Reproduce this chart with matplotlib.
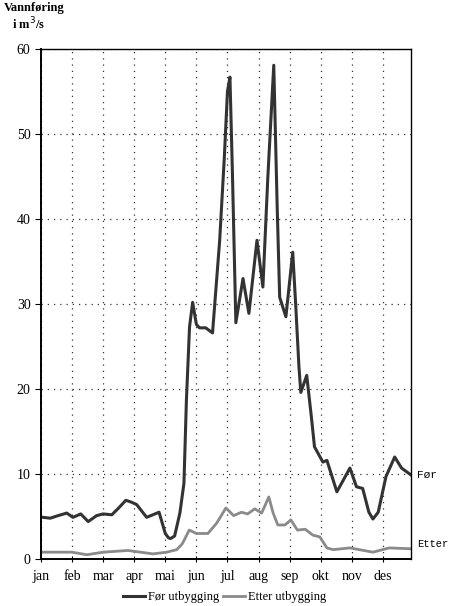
import matplotlib.pyplot as plt

# month position (0 = start of jan), values in m3/s
months = ['jan', 'feb', 'mar', 'apr', 'mai', 'jun', 'jul', 'aug', 'sep', 'okt', 'nov', 'des']

for_x = [0.06, 0.3, 0.55, 0.83, 1.03, 1.28, 1.52, 1.79, 2.0, 2.28, 2.5, 2.73, 2.9, 3.08,
         3.4, 3.8, 4.0, 4.1, 4.17, 4.3, 4.47, 4.6, 4.68, 4.78, 4.88, 5.0, 5.1, 5.3, 5.52,
         5.75, 5.9, 6.0, 6.08, 6.16, 6.27, 6.5, 6.69, 6.95, 7.14, 7.3, 7.49, 7.6, 7.68,
         7.88, 8.1, 8.2, 8.3, 8.36, 8.55, 8.7, 8.8, 9.07, 9.2, 9.52, 9.94, 10.15, 10.35,
         10.55, 10.68, 10.85, 11.1, 11.38, 11.6, 11.9]
for_y = [4.9, 4.8, 5.1, 5.4, 4.9, 5.3, 4.4, 5.1, 5.3, 5.2, 6.0, 6.9, 6.7, 6.4,
         4.9, 5.5, 3.0, 2.5, 2.4, 2.7, 5.4, 8.9, 18.7, 27.3, 30.2, 27.6, 27.2, 27.2, 26.6,
         37.5, 47.3, 55.0, 56.7, 45.4, 27.8, 33.0, 28.9, 37.5, 32.0, 45.0, 58.1, 41.4, 30.8,
         28.5, 36.1, 29.6, 22.6, 19.6, 21.6, 16.7, 13.2, 11.4, 11.6, 7.9, 10.7, 8.5, 8.3,
         5.5, 4.7, 5.5, 9.7, 12.0, 10.7, 9.9]

etter_x = [0.06, 1.0, 1.48, 2.0, 2.8, 3.6, 4.05, 4.37, 4.55, 4.77, 5.0, 5.37, 5.65, 5.95,
           6.2, 6.45, 6.65, 6.88, 7.1, 7.33, 7.47, 7.62, 7.85, 8.04, 8.25, 8.5, 8.75,
           8.97, 9.2, 9.4, 9.94, 10.68, 11.2, 11.9]
etter_y = [0.8, 0.8, 0.5, 0.8, 1.0, 0.6, 0.8, 1.1, 1.8, 3.4, 3.0, 3.0, 4.2, 6.0,
           5.1, 5.5, 5.3, 5.9, 5.4, 7.3, 5.4, 4.0, 4.0, 4.6, 3.4, 3.5, 2.8,
           2.6, 1.3, 1.1, 1.3, 0.8, 1.3, 1.2]

plt.rcParams['font.family'] = ['Liberation Serif', 'DejaVu Serif']

fig = plt.figure(figsize=(4.5, 6.06), dpi=100)
ax = fig.add_axes([0.091, 0.0776, 0.822, 0.8414])

ax.plot(for_x, for_y, color='#333333', lw=2.2, label='Før utbygging', solid_joinstyle='round')
ax.plot(etter_x, etter_y, color='#8a8a8a', lw=2.0, label='Etter utbygging', solid_joinstyle='round')

ax.set_xlim(0, 11.9)
ax.set_ylim(0, 60)
ax.set_xticks(range(12))
ax.set_xticklabels(months, fontsize=10)
ax.set_yticks(range(0, 61, 10))
ax.tick_params(axis='y', labelsize=10, length=4, direction='out')
ax.tick_params(axis='x', length=4, direction='inout', pad=6)

ax.grid(True, linestyle=(0, (1, 4)), color='#333333', lw=0.9)
for s in ['top', 'right']:
    ax.spines[s].set_linewidth(1.0)
for s in ['left', 'bottom']:
    ax.spines[s].set_linewidth(1.4)

# end labels
ax.text(12.1, for_y[-1], 'Før', fontsize=8, family='Liberation Mono', va='center', clip_on=False)
ax.text(12.1, etter_y[-1] + 0.6, 'Etter', fontsize=7.5, family='Liberation Mono', va='center', clip_on=False)

fig.text(0.008, 0.986, 'Vannføring', fontsize=9, fontweight='bold', ha='left', va='center')
fig.text(0.026, 0.961, 'i m$^3$/s', fontsize=9, fontweight='bold', ha='left', va='center')

fig.legend(loc='center', bbox_to_anchor=(0.5, 0.015), ncol=2, frameon=False, fontsize=9,
           handlelength=1.7, handletextpad=0.3, columnspacing=0.3)

fig.savefig('out.png', dpi=100)
